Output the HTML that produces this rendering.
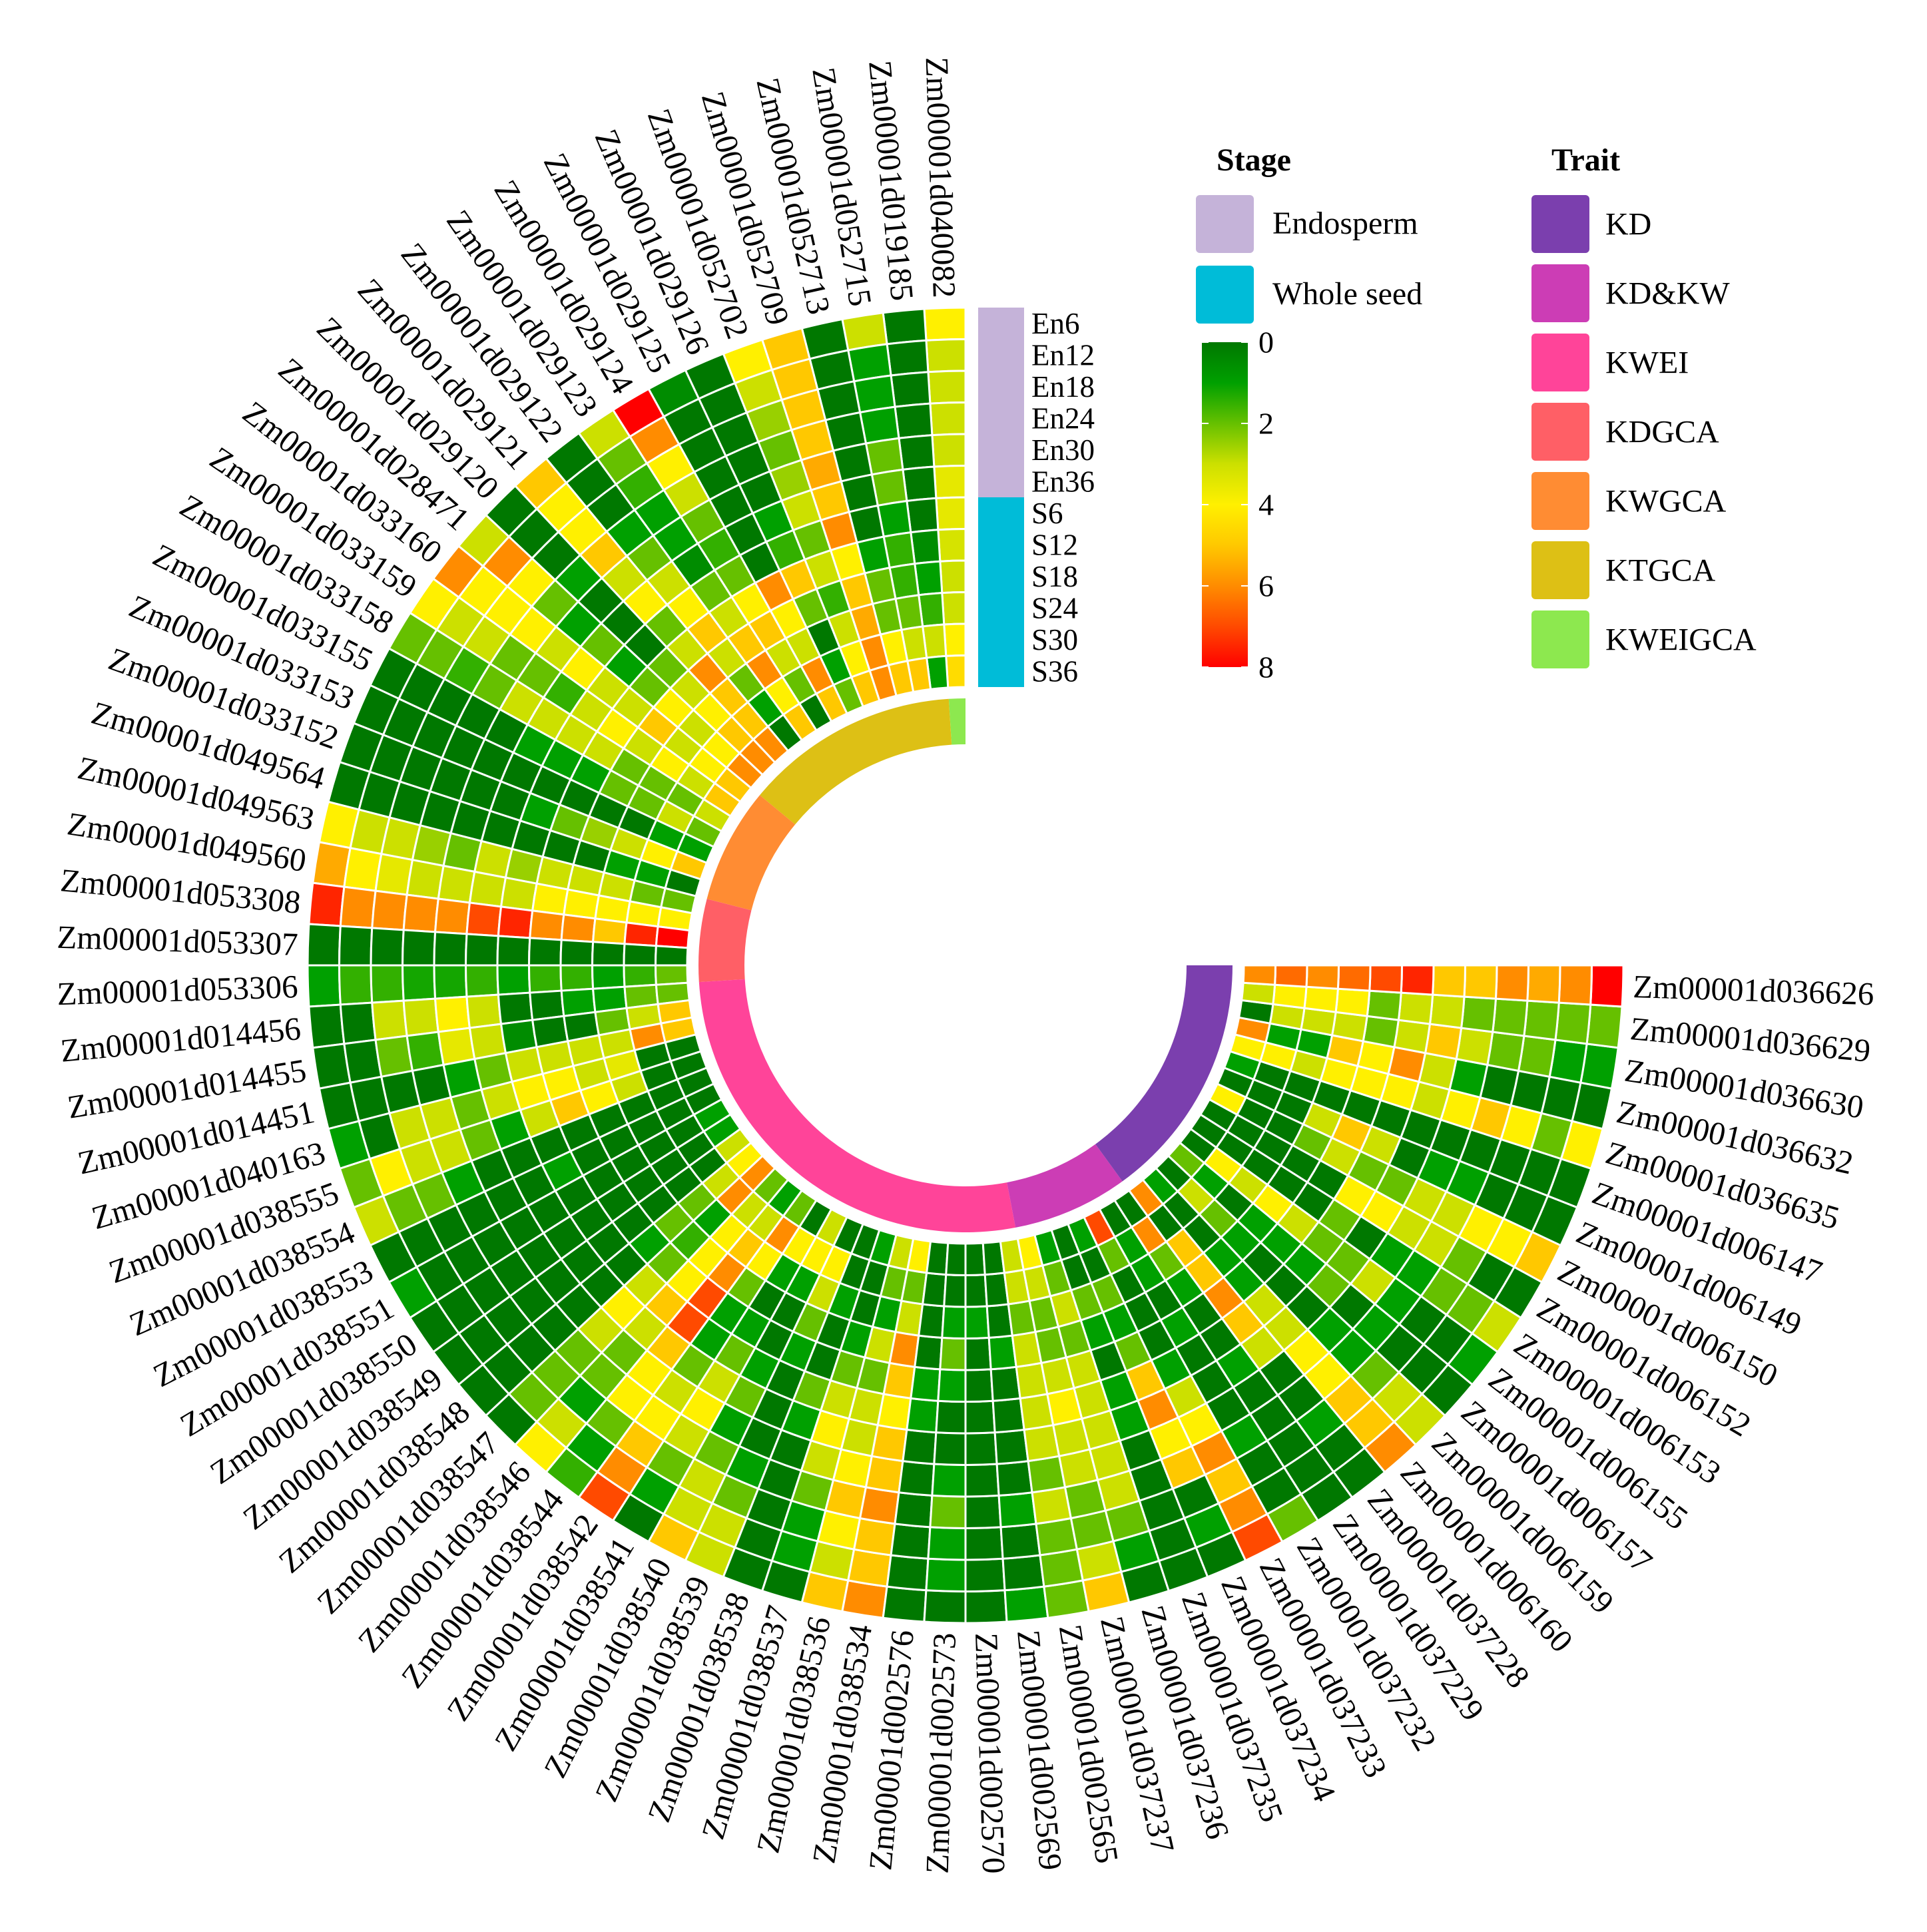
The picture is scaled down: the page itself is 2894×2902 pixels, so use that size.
<!DOCTYPE html>
<html><head><meta charset="utf-8"><style>
html,body{margin:0;padding:0;background:#fff}
svg{display:block}
text{font-family:"Liberation Serif",serif;fill:#000}
.b{font-family:"Liberation Serif",serif;font-weight:bold}
.l{font-family:"Liberation Serif",serif}
</style></head><body>
<svg id="c" width="2894" height="2902" viewBox="0 0 2894 2902" xmlns="http://www.w3.org/2000/svg">
<defs><linearGradient id="grad" x1="0" y1="0" x2="0" y2="1">
<stop offset="0" stop-color="#007800"/><stop offset="0.125" stop-color="#00A000"/><stop offset="0.25" stop-color="#66C000"/><stop offset="0.375" stop-color="#CCE000"/><stop offset="0.5" stop-color="#FFF000"/><stop offset="0.625" stop-color="#FFC800"/><stop offset="0.75" stop-color="#FF8C00"/><stop offset="0.875" stop-color="#FF4A00"/><stop offset="1" stop-color="#FF0000"/></linearGradient></defs>
<g id="heat"></g>
<g id="track"></g>
<g id="glabels"></g>
<g id="stagebar">
<rect x="1469" y="462" width="69" height="285" fill="#C5B3D9"/>
<rect x="1469" y="747" width="69" height="285" fill="#00BCD8"/>
</g>
<g id="ringlabels"></g>
<g>
<text class="b" x="1827" y="256" font-size="48">Stage</text>
<rect x="1796" y="293" width="87" height="87" rx="6" fill="#C5B3D9"/>
<text class="l" x="1911" y="351" font-size="48">Endosperm</text>
<rect x="1796" y="399" width="87" height="87" rx="6" fill="#00BCD8"/>
<text class="l" x="1911" y="457" font-size="48">Whole seed</text>
</g>
<g>
<rect x="1805" y="514" width="69" height="488" fill="url(#grad)"/>
<g id="cticks"></g>
</g>
<g id="traitleg">
<text class="b" x="2330" y="256" font-size="48">Trait</text>
</g>
</svg>
<script>
const genes=["040082","019185","052715","052713","052709","052702","029126","029125","029124","029123","029122","029121","029120","028471","033160","033159","033158","033155","033153","033152","049564","049563","049560","053308","053307","053306","014456","014455","014451","040163","038555","038554","038553","038551","038550","038549","038548","038547","038546","038544","038542","038541","038540","038539","038538","038537","038536","038534","002576","002573","002570","002569","002565","037237","037236","037235","037234","037233","037232","037229","037228","006160","006159","006157","006155","006153","006152","006150","006149","006147","036635","036632","036630","036629","036626"];
const samples=["En6","En12","En18","En24","En30","En36","S6","S12","S18","S24","S30","S36"];
const values=[
[4,3,3,3,3,3.5,3.5,3.2,3,3,4,4.5],[0,0,0,0,0,0,0,0.5,1,1.5,3,1],[3,1,1,1,2,2,1,1.5,1.5,2,3,5],[0,0,0,0,0,0,0,1,2,2,4,5],[5,5,5,5,5.5,5,6,4,5,5.5,6,6],[4,3,2.5,2,2.5,3,2,3,1.5,3,4,5],[0,0,0,0,0,1,1.5,5,2,0,1,2],[0.5,0,0,0,0,0,0,6,4,3,6,5],[8,6,4,3,2,1.5,2,4,5,3,2,0],[3,2,1.5,1,1,0.5,2,3,5,6,4,5],
[0,0,0,1,2,3,4,5,3,2,1,0],[5,4,4,5,3,4,2,3,6,5,5,6],[0,0,0,1,0,0,0,2,3,4,5,6],[3,6,4,2,1,2,1,2,4,3,4,6],[6,4,4,4,3,4,3,3,5,3,4,5],[4,3,3,2,2,1.5,3,4,3,4,3,5],[2,2,1.5,2,3,3,3,3,2,2,2,3],[0,0,0,0,0,1,1,1,2,2,3,2],[0,0,0,0,0,0,0,0,0,0,1,1],[0,0,0,0,0,0,1,2,2.5,3,4,5],
[0,0,0,0,0,0,0,0,0,1,1,0],[4,3,3,2.5,2,3,2.5,3,3,3,2,2],[5.5,4,3.5,3,3,3,3,4,4,4,4,4],[7.5,6,6,6,6,7,7.5,6,6,5,7.5,8],[0,0,0,0,0,0,0,0,0,0,0,0],[1,1.5,1.5,1.2,1.2,1.5,1,1.5,1.5,1,1.5,2],[0,0,3,3,4,3,0,0,1,1,2,2],[0,0,2,1.5,3.5,3,0.5,0,0,2,3,5],[0,0,0,0,1,2,3,3,3,3,6,5],[1,0,3,3,2,3,4,4,3,3.5,0,0],
[2,4,3,3,2,1,3,5,4,3,0,0],[3,2,2,1,0,0,0,0,0,0,0,0],[0,0,0,0,0,0,1,0,0,0,0,0],[1,0,0,0,0,0,0,0,0,0,0,1],[0,0,0,0,0,0,0,0,0,0,0,1],[0,0,0,0,0,0,0,0,0,0,0,3],[0,0,0,0,0,0,0,1,2,2,3,4],[0,2,2,2,3,4,3,2,1.5,1,6,6],[4,3,1,2,2,3,5,4,4,4,3,2],[1.5,1,2,4,4,5,7,7,6,5,3,1],
[7,6,5,4,3,2,1,1,2,4,6,2],[0,1,2,3,4,3,2,1,0,1,4,0],[5,3,3,2,1,2,1,0,0,1,4,3],[3,3,2,1,0,0,0,1,2,3,4,0],[0,0,0,0,0,1,2,0,0,1,0,0],[0,1,1,2,3,4,3,2,1,0,0,1],[5,3,4,5,4,3,3,2,3,1,2,3],[6,5,5,6,5,5,4,5,6,3,2,4],[0,0,0,0,0,0,1,1,0,0,0,0],[0,1,1,2,1,0,0,1,2,1,0,0],
[0,0,0,0,0,0,0,0,0,1,0,0],[1,0,0,1,0,0,0,0,1,0,0,0],[2,2,2,3,2,3,3,3,3,2,3,3],[5,3,2,2,3,3,4,3,2,2,3,4],[0,1,2,3,3,3,3,3,2,3,2,1],[0,0,0,0,0,1,1,0,1,2,0,0],[0,1,0,5,4,6,5,2,1,2,0,1],[7,6,5,6,4,3,1,0,0,0,2,7],[2,0,0,1,0,0,0,1,0,1,1,0],[0,0,0,0,0,1,0,0,1,2,6,0],
[0,0,1,0,0,3,5,6,5,5,0,6],[6,5,5,4,4,3,3,1,1,0,0,1],[3,3,2,1,1,0,0,0,1,2,3,0],[0,0,0,1,0,2,1,1,1,0,1,2],[1,0,0,1,3,2,2,3,4,3,4,0],[3,2,2,1,1,0,2,0,0,0,0,0],[0,0,2,3,3,4,4,0,0,0,0,0],[5,4,4,3,3,2,2,3,2,0,0,4],[0,0,0,1,1,0,3,5,3,0,0,0],[0,0,0,0,0,0,0,0,0,0,0,1],
[4,2,4,5,4,3,4,4,4,3,4,4],[0,0,0,0,1,3,6,4,5,1,1,6],[1,1,2,2,3,5,3,2,3,3,3,0],[2,2,2,2,2,3,3,2,4,4,4,3],[8,6,5.5,6,5,5,7.5,7,6.5,6,6.5,6]];
const traitNames=["KWEIGCA","KTGCA","KWGCA","KDGCA","KWEI","KD&KW","KD"];
const traitCounts=[1,13,7,5,27,7,15];
const legendTraits=["KD","KD&KW","KWEI","KDGCA","KWGCA","KTGCA","KWEIGCA"];
const scaleTicks=[0,2,4,6,8];
const traitColor={"KD":"#7B3FAE","KD&KW":"#CC3DB5","KWEI":"#FF4499","KDGCA":"#FF5F66","KWGCA":"#FF8C33","KTGCA":"#DDC015","KWEIGCA":"#8DE84F"};
const stops=[[0,[0,120,0]],[1,[0,160,0]],[2,[102,192,0]],[3,[204,224,0]],[4,[255,240,0]],[5,[255,200,0]],[6,[255,140,0]],[7,[255,74,0]],[8,[255,0,0]]];
function col(v){v=Math.max(0,Math.min(8,v));for(let i=0;i<stops.length-1;i++){const a=stops[i],b=stops[i+1];if(v<=b[0]){const t=(v-a[0])/(b[0]-a[0]);const c=a[1].map((x,k)=>Math.round(x+(b[1][k]-x)*t));return`rgb(${c})`;}}return"rgb(255,0,0)";}
const NS="http://www.w3.org/2000/svg",cx=1450,cy=1450,R0=418,R1=988,SPAN=270;
const ringW=(R1-R0)/samples.length;
function ang(i){return i/genes.length*SPAN;}
function pt(r,t){const a=t*Math.PI/180;return[cx-r*Math.sin(a),cy-r*Math.cos(a)];}
function sector(r1,r2,t1,t2){const a=pt(r2,t1),b=pt(r2,t2),c=pt(r1,t2),d=pt(r1,t1);const L=(t2-t1)>180?1:0;
return`M${a}A${r2},${r2} 0 ${L} 0 ${b}L${c}A${r1},${r1} 0 ${L} 1 ${d}Z`;}
function mk(tag,attrs,parent){const e=document.createElementNS(NS,tag);for(const k in attrs)e.setAttribute(k,attrs[k]);parent.appendChild(e);return e;}
const heat=document.getElementById('heat');
values.forEach((row,g)=>{row.forEach((v,s)=>{const ro=R1-s*ringW,ri=ro-ringW;
const p=mk('path',{d:sector(ri,ro,ang(g),ang(g+1)),fill:col(v),stroke:'#fff','stroke-width':3},heat);

});});
const track=document.getElementById('track');let start=0;
traitNames.forEach((t,i)=>{const p=mk('path',{d:sector(332,401,ang(start),ang(start+traitCounts[i])),fill:traitColor[t]},track);

start+=traitCounts[i];});
const gl=document.getElementById('glabels');
genes.forEach((g,i)=>{const t=ang(i+0.5),a=t*Math.PI/180;const [x,y]=pt(1003,t);let rot,anchor;
if(t<180){rot=Math.atan2(Math.cos(a),Math.sin(a))*180/Math.PI;anchor='end';}else{rot=Math.atan2(-Math.cos(a),-Math.sin(a))*180/Math.PI;anchor='start';}
const e=mk('text',{x:x,y:y,'font-size':49,'text-anchor':anchor,'dominant-baseline':'central',transform:`rotate(${rot} ${x} ${y})`},gl);
e.textContent='Zm00001d'+g;

});
const rl=document.getElementById('ringlabels');
samples.forEach((s,i)=>{const r=R1-ringW*(i+0.5);const e=mk('text',{x:1549,y:cy-r,'font-size':45,'dominant-baseline':'central'},rl);e.textContent=s;

});
const ct=document.getElementById('cticks');
scaleTicks.forEach(v=>{const y=514+v/8*488;mk('line',{x1:1805,x2:1815,y1:y,y2:y,stroke:'#fff','stroke-width':2},ct);mk('line',{x1:1864,x2:1874,y1:y,y2:y,stroke:'#fff','stroke-width':2},ct);
const e=mk('text',{class:'l',x:1890,y:y,'font-size':46,'dominant-baseline':'central'},ct);e.textContent=v;

});
const tl=document.getElementById('traitleg');
legendTraits.forEach((t,i)=>{const y=293+i*104;const r=mk('rect',{x:2300,y:y,width:87,height:87,rx:6,fill:traitColor[t]},tl);


const e=mk('text',{class:'l',x:2411,y:y+44,'font-size':48,'dominant-baseline':'central'},tl);e.textContent=t;

});
</script>
</body></html>
